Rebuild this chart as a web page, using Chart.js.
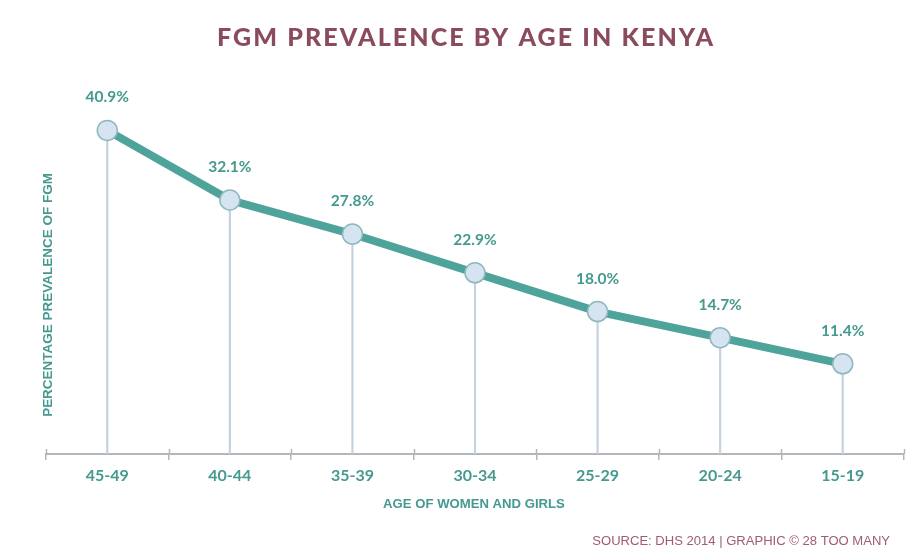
<!DOCTYPE html>
<html>
<head>
<meta charset="utf-8">
<script src="https://cdn.jsdelivr.net/npm/chart.js@4"></script>
<style>
  html, body { margin: 0; padding: 0; background: #ffffff; }
  #wrap { width: 908px; height: 555px; position: relative; }
</style>
</head>
<body>
<div id="wrap"><canvas id="c" width="908" height="555"></canvas></div>
<script>
const categories = ["45-49", "40-44", "35-39", "30-34", "25-29", "20-24", "15-19"];
const prevalence = [40.9, 32.1, 27.8, 22.9, 18.0, 14.7, 11.4];
const valueLabels = ["40.9%", "32.1%", "27.8%", "22.9%", "18.0%", "14.7%", "11.4%"];
const titleText = "FGM PREVALENCE BY AGE IN KENYA";
const yTitle = "PERCENTAGE PREVALENCE OF FGM";
const xTitle = "AGE OF WOMEN AND GIRLS";
const sourceText = "SOURCE: DHS 2014 | GRAPHIC \u00A9 28 TOO MANY";

const TEAL = "#4ea39a";
const TEAL_TEXT = "#45998f";
const MAROON = "#8a4b5c";
const SOURCE_COL = "#a05d6d";
const AXIS = "#b3b6ba";

// let the plot area run to the layout padding (no extra room for point overflow)
if (Chart.LineController) {
  Chart.LineController.prototype.getMaxOverflow = function () { return 0; };
}

function fitSize(ctx, text, weight, family, target, base) {
  ctx.font = weight + " " + base + "px " + family;
  const w = ctx.measureText(text).width;
  return base * target / w;
}

const textPlugin = {
  id: "texts",
  afterDatasetsDraw(chart) {
    const ctx = chart.ctx;
    const meta = chart.getDatasetMeta(0);
    ctx.save();
    ctx.fillStyle = TEAL_TEXT;
    ctx.font = "bold 15.5px Lato";
    ctx.textAlign = "center";
    ctx.textBaseline = "alphabetic";
    meta.data.forEach((pt, i) => {
      ctx.fillText(valueLabels[i], pt.x, pt.y - 28);
    });
    ctx.restore();
  },
  afterDraw(chart) {
    const ctx = chart.ctx;
    const xs = chart.scales.x;
    const area = chart.chartArea;
    ctx.save();
    ctx.strokeStyle = AXIS;
    ctx.lineWidth = 1.5;
    const n = categories.length;
    const step = (xs.right - xs.left) / n;
    for (let i = 0; i <= n; i++) {
      const x = Math.round(xs.left + i * step) + 0.5;
      ctx.beginPath();
      ctx.moveTo(x, area.bottom - 5);
      ctx.lineTo(x, area.bottom);
      ctx.stroke();
    }
    ctx.restore();

    // title
    ctx.save();
    ctx.fillStyle = MAROON;
    ctx.font = "900 25px Lato";
    ctx.letterSpacing = "0px";
    const w0 = ctx.measureText(titleText).width;
    const target = 496;
    const sp = Math.max(0, (target - w0) / (titleText.length - 1));
    ctx.letterSpacing = sp + "px";
    ctx.textAlign = "left";
    ctx.textBaseline = "alphabetic";
    ctx.fillText(titleText, 465 - target / 2, 46);
    ctx.restore();

    // y title
    ctx.save();
    ctx.fillStyle = TEAL_TEXT;
    const ys = fitSize(ctx, yTitle, "bold", "'Liberation Sans', Arial", 244, 12);
    ctx.font = "bold " + ys + "px 'Liberation Sans', Arial";
    ctx.translate(51.5, 295);
    ctx.rotate(-Math.PI / 2);
    ctx.textAlign = "center";
    ctx.textBaseline = "alphabetic";
    ctx.fillText(yTitle, 0, 0);
    ctx.restore();

    // x title
    ctx.save();
    ctx.fillStyle = TEAL_TEXT;
    const xsz = fitSize(ctx, xTitle, "bold", "'Liberation Sans', Arial", 182, 13);
    ctx.font = "bold " + xsz + "px 'Liberation Sans', Arial";
    ctx.textAlign = "center";
    ctx.textBaseline = "alphabetic";
    ctx.fillText(xTitle, 474, 508);
    ctx.restore();

    // source
    ctx.save();
    ctx.fillStyle = SOURCE_COL;
    const ssz = fitSize(ctx, sourceText, "normal", "'Liberation Sans', Arial", 298, 12.5);
    ctx.font = "normal " + ssz + "px 'Liberation Sans', Arial";
    ctx.textAlign = "right";
    ctx.textBaseline = "alphabetic";
    ctx.fillText(sourceText, 890, 545);
    ctx.restore();
  }
};

const bgPlugin = {
  id: "bg",
  beforeDraw(chart) {
    const ctx = chart.ctx;
    ctx.save();
    ctx.fillStyle = "#ffffff";
    ctx.fillRect(0, 0, chart.width, chart.height);
    ctx.restore();
  }
};

new Chart(document.getElementById("c"), {
  type: "line",
  data: {
    labels: categories,
    datasets: [
      {
        type: "line",
        data: prevalence,
        borderColor: TEAL,
        borderWidth: 8,
        tension: 0,
        pointRadius: 10,
        pointBorderWidth: 1.5,
        pointBackgroundColor: "#d6e4f2",
        pointBorderColor: "#8fb8bc",
        order: 1
      },
      {
        type: "bar",
        data: prevalence,
        backgroundColor: "#c4d1df",
        barThickness: 1.5,
        order: 2
      }
    ]
  },
  options: {
    responsive: false,
    animation: false,
    devicePixelRatio: 1,
    layout: { padding: { left: 46, right: 4, top: 94, bottom: 0 } },
    plugins: {
      legend: { display: false },
      tooltip: { enabled: false },
      title: { display: false }
    },
    scales: {
      x: {
        type: "category",
        offset: true,
        grid: {
          offset: true,
          drawOnChartArea: false,
          drawTicks: true,
          tickLength: 6,
          color: AXIS,
          lineWidth: 1.5
        },
        border: { color: AXIS, width: 2 },
        ticks: {
          color: TEAL_TEXT,
          font: { family: "Lato", weight: "bold", size: 16 },
          padding: 6,
          maxRotation: 0
        },
        afterFit(s) { s.height = 101; }
      },
      y: {
        display: false,
        min: 0,
        max: 45.5
      }
    }
  },
  plugins: [bgPlugin, textPlugin]
});
</script>
</body>
</html>
